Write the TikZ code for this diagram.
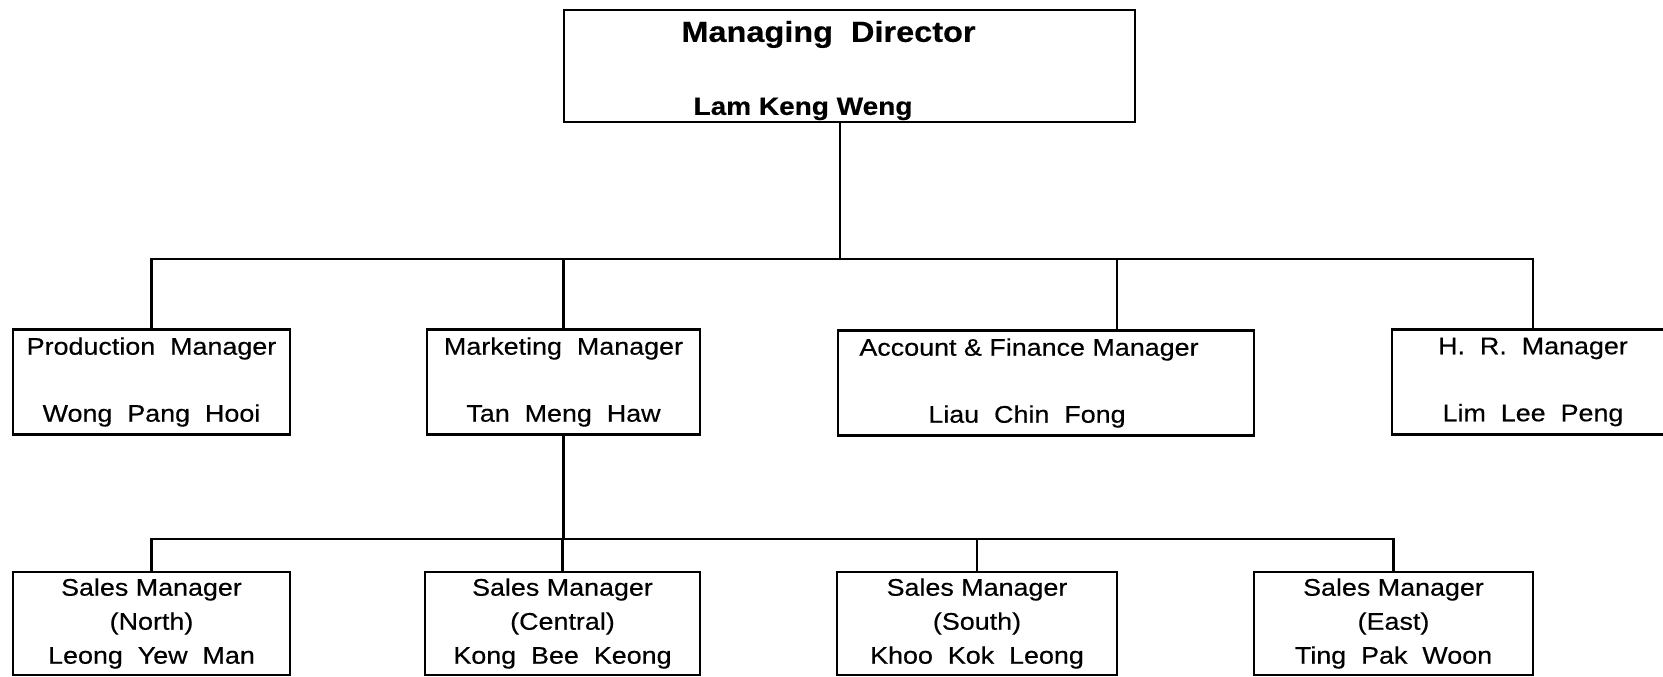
\documentclass[tikz,border=0pt]{standalone}
\usepackage{fontspec}
\setmainfont{Liberation Sans}[FakeStretch=1.12, FakeBold=0.4]

\begin{document}
\begin{tikzpicture}[x=1pt, y=-1pt, line width=2.8pt]
% Define styles
\tikzstyle{post} = [rectangle, draw=black, inner sep=0pt, minimum height=105pt, align=center, font=\fontsize{24}{34}\selectfont]
\tikzstyle{head} = [post, minimum width=571pt, minimum height=112pt, font=\fontsize{29}{35}\selectfont\bfseries]
\tikzstyle{sales} = [post, minimum height=103pt]

\useasboundingbox (0,0) rectangle (1663,677);
\clip (0,0) rectangle (1663,677);

% Nodes
\node (md) [head] at (849.5,66) {\rule{0pt}{30pt}Managing~~Director\hspace*{42pt}\\[38pt]{\fontsize{25}{35}\selectfont Lam~Keng~Weng}\hspace*{93pt}};

\node (prod) [post, minimum width=277pt] at (151.5,382) {Production~~Manager\\[33pt]Wong~~Pang~~Hooi};
\node (mkt) [post, minimum width=273pt] at (563.5,382) {Marketing~~Manager\\[33pt]Tan~~Meng~~Haw};
\node (acct) [post, minimum width=416pt] at (1046,383) {Account \& Finance Manager\hspace*{34pt}\\[33pt]Liau~~Chin~~Fong\hspace*{38pt}};
\node (hr) [post, minimum width=282pt] at (1533,382) {H.~~R.~~Manager\\[33pt]Lim~~Lee~~Peng};

\node (smnorth) [sales, minimum width=277pt] at (151.5,623.5) {Sales Manager\\(North)\\Leong~~Yew~~Man};
\node (smcentral) [sales, minimum width=275pt] at (562.5,623.5) {Sales Manager\\(Central)\\Kong~~Bee~~Keong};
\node (smsouth) [sales, minimum width=280pt] at (977,623.5) {Sales Manager\\(South)\\Khoo~~Kok~~Leong};
\node (smeast) [sales, minimum width=279pt] at (1393.5,623.5) {Sales Manager\\(East)\\Ting~~Pak~~Woon};

% Lines
\coordinate (mddrop) at (840,0 |- md.south);
\coordinate (bus1) at (840,259);
\coordinate (bus2) at (mkt.south |- 0,539);
\coordinate (acctdrop) at ([xshift=71pt]acct.north);

\draw (mddrop) -- (bus1);
\draw (prod.north) |- (bus1) -| (hr.north);
\draw (mkt.north) -- (mkt.north |- bus1);
\draw (acctdrop) -- (acctdrop |- bus1);

\draw (mkt.south) -- (bus2);
\draw (smnorth.north) |- (bus2) -| (smeast.north);
\draw (smcentral.north) -- (smcentral.north |- bus2);
\draw (smsouth.north) -- (smsouth.north |- bus2);
\end{tikzpicture}
\end{document}
